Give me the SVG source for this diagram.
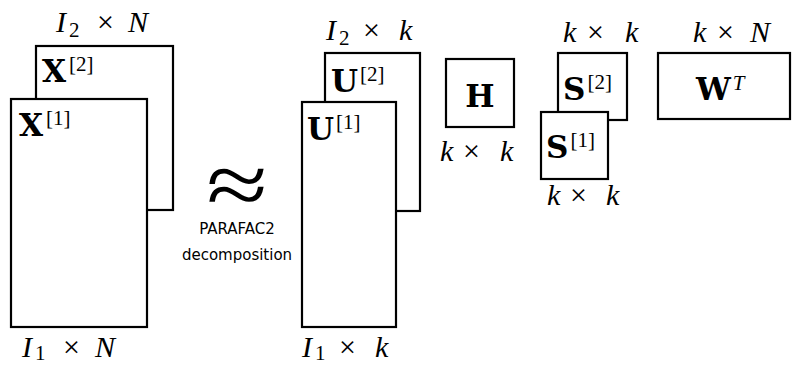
<svg xmlns="http://www.w3.org/2000/svg" width="792" height="366" viewBox="0 0 792 366">
<style>
.box{fill:#fff;stroke:#000;stroke-width:2.2}
.dim{font-family:"Liberation Serif",serif;font-size:30px;fill:#000}
.it{font-style:italic}
.sub{font-size:21px}
.mb{font-family:"DejaVu Serif",serif;font-weight:bold;font-size:31px;fill:#000}
.sup{font-family:"Liberation Serif",serif;font-weight:normal;font-size:21px}
.cap{font-family:"DejaVu Sans",sans-serif;font-size:15px;fill:#000;text-anchor:middle}
</style>
<rect width="792" height="366" fill="#fff"/>
<g id="X2">
<rect class="box" x="36" y="46" width="137" height="164"/>
<text class="mb" x="42" y="82">X<tspan class="sup" dx="3" dy="-11">[2]</tspan></text>
<text class="dim"><tspan class="it" x="56" y="32">I</tspan><tspan class="sub" x="69" y="37">2</tspan><tspan x="97" y="32">×</tspan><tspan class="it" x="128" y="32">N</tspan></text>
</g>
<g id="X1">
<rect class="box" x="11" y="99" width="136" height="228"/>
<text class="mb" x="19" y="136">X<tspan class="sup" dx="3" dy="-11">[1]</tspan></text>
<text class="dim"><tspan class="it" x="22" y="357">I</tspan><tspan class="sub" x="35" y="360">1</tspan><tspan x="63" y="357">×</tspan><tspan class="it" x="95" y="357">N</tspan></text>
</g>
<g id="approx">
<text transform="translate(237,215) scale(1,0.8)" x="0" y="0" font-family="Liberation Serif,serif" font-size="112" text-anchor="middle">≈</text>
<text class="cap" x="237" y="234">PARAFAC2</text>
<text class="cap" x="237" y="260">decomposition</text>
</g>
<g id="U2">
<rect class="box" x="325" y="53" width="95" height="158"/>
<text class="mb" x="331" y="92">U<tspan class="sup" dx="2" dy="-11">[2]</tspan></text>
<text class="dim"><tspan class="it" x="326" y="40">I</tspan><tspan class="sub" x="339" y="45">2</tspan><tspan x="363" y="40">×</tspan><tspan class="it" x="399" y="40">k</tspan></text>
</g>
<g id="U1">
<rect class="box" x="302" y="102" width="94" height="225"/>
<text class="mb" x="307" y="140">U<tspan class="sup" dx="2" dy="-11">[1]</tspan></text>
<text class="dim"><tspan class="it" x="302" y="357">I</tspan><tspan class="sub" x="315" y="360">1</tspan><tspan x="339" y="357">×</tspan><tspan class="it" x="375" y="357">k</tspan></text>
</g>
<g id="H">
<rect class="box" x="446" y="59" width="68" height="68"/>
<text class="mb" x="480" y="107" text-anchor="middle">H</text>
<text class="dim"><tspan class="it" x="440" y="161">k</tspan><tspan x="463" y="161">×</tspan><tspan class="it" x="500" y="161">k</tspan></text>
</g>
<g id="S2">
<rect class="box" x="558" y="53" width="69" height="67"/>
<text class="mb" x="563" y="100">S<tspan class="sup" dx="2" dy="-11">[2]</tspan></text>
<text class="dim"><tspan class="it" x="563" y="42">k</tspan><tspan x="587" y="42">×</tspan><tspan class="it" x="625" y="42">k</tspan></text>
</g>
<g id="S1">
<rect class="box" x="541" y="112" width="67" height="67"/>
<text class="mb" x="546" y="158">S<tspan class="sup" dx="2" dy="-11">[1]</tspan></text>
<text class="dim"><tspan class="it" x="547" y="205">k</tspan><tspan x="570" y="205">×</tspan><tspan class="it" x="606" y="205">k</tspan></text>
</g>
<g id="W">
<rect class="box" x="658" y="53" width="132" height="66"/>
<text class="mb" x="696" y="100">W<tspan class="sup it" dx="2" dy="-10">T</tspan></text>
<text class="dim"><tspan class="it" x="693" y="42">k</tspan><tspan x="717" y="42">×</tspan><tspan class="it" x="750" y="42">N</tspan></text>
</g>
<g id="connectors"/>
</svg>
